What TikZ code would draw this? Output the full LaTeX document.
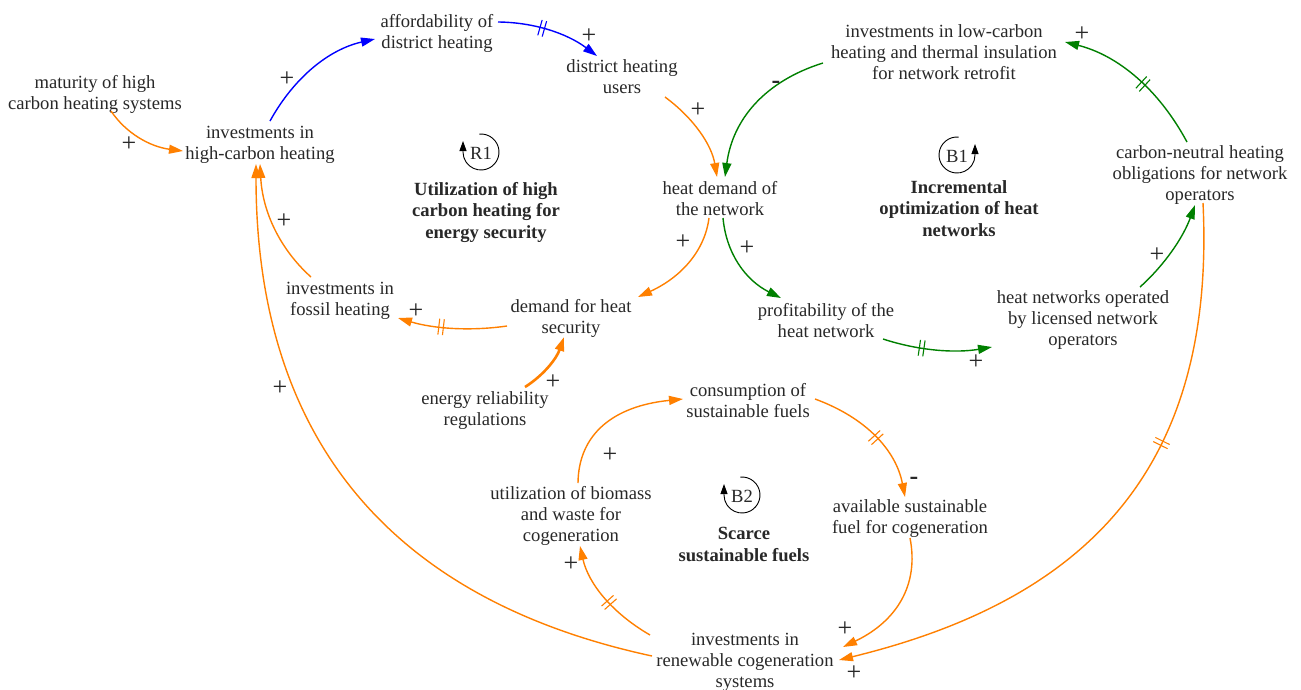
\documentclass[tikz,border=0pt]{standalone}
\usepackage{fontspec}
\setmainfont{Liberation Serif}
\usetikzlibrary{arrows.meta,decorations.markings}
\definecolor{orC}{RGB}{255,128,0}
\definecolor{grC}{RGB}{0,128,0}
\definecolor{blC}{RGB}{0,0,255}
\definecolor{txtC}{RGB}{40,40,40}
\newcommand{\tstrut}{\rule[-3.3pt]{0pt}{21pt}}
\begin{document}
\begin{tikzpicture}[x=1pt,y=-1pt,
  lbl/.style={align=center,inner sep=0pt,text=txtC,font=\fontsize{18.6}{21}\selectfont,execute at begin node=\tstrut,execute at end node=\tstrut},
  bld/.style={lbl,font=\fontsize{18.6}{21.5}\selectfont\bfseries},
  sgn/.style={inner sep=0pt,text=txtC,font=\fontsize{26}{26}\selectfont},
  lk/.style={line width=1.4pt,-{Triangle[length=14pt,width=9pt]}},
  cor/.style={color=orC},
  cgr/.style={color=grC},
  cbl/.style={color=blC},
  delaymk/.style={postaction={decorate,decoration={markings,mark=at position #1 with {\draw[line width=1.1pt,-] (-2.3pt,-8pt) -- (-2.3pt,8pt) (2.3pt,-8pt) -- (2.3pt,8pt);}}}},
  loopar/.style={line width=0.9pt,black,-{Triangle[length=10pt,width=7pt]}}
]
\useasboundingbox[fill=white] (0,0) rectangle (1301,689);

% variables
\node[lbl] (mat) at (95,94) {maturity of high\\carbon heating systems};
\node[lbl] (ihc) at (260,145) {investments in\\high-carbon heating};
\node[lbl] (aff) at (437,33.5) {affordability of\\district heating};
\node[lbl] (dhu) at (622,78.5) {district heating\\users};
\node[lbl] (hdn) at (720,200) {heat demand of\\the network};
\node[lbl] (ilc) at (944,54) {investments in low-carbon\\heating and thermal insulation\\for network retrofit};
\node[lbl] (cnh) at (1200,175) {carbon-neutral heating\\obligations for network\\operators};
\node[lbl] (hno) at (1083,320) {heat networks operated\\by licensed network\\operators};
\node[lbl] (prof) at (826,322) {profitability of the\\heat network};
\node[lbl] (dhs) at (571,318) {demand for heat\\security};
\node[lbl] (ifh) at (340,301) {investments in\\fossil heating};
\node[lbl] (erg) at (485,410.5) {energy reliability\\regulations};
\node[lbl] (csf) at (748,402.5) {consumption of\\sustainable fuels};
\node[lbl] (asf) at (910,519) {available sustainable\\fuel for cogeneration};
\node[lbl] (ubw) at (571,516) {utilization of biomass\\and waste for\\cogeneration};
\node[lbl] (irc) at (745,662) {investments in\\renewable cogeneration\\systems};

% loop markers
\node[lbl] (R1) at (481,152) {R1};
\node[lbl] (B1) at (957,155) {B1};
\node[lbl] (B2) at (742,495) {B2};
\draw[loopar] ([shift={(-95:18)}]R1.center) arc[start angle=-95,end angle=180,radius=18] -- ++(0,-11);
\draw[loopar] ([shift={(-85:18)}]B1.center) arc[start angle=-85,end angle=-360,radius=18] -- ++(0,-11);
\draw[loopar] ([shift={(-95:18)}]B2.center) arc[start angle=-95,end angle=180,radius=18] -- ++(0,-11);
\node[bld] (L1) at (486,212) {Utilization of high\\carbon heating for\\energy security};
\node[bld] (L2) at (959,210) {Incremental\\optimization of heat\\networks};
\node[bld] (L3) at (744,546) {Scarce\\sustainable fuels};

% links
\draw[cbl,lk] ([shift={(10,-24)}]ihc.center) .. controls (294.5,76.7) and (329.5,49.3) .. ([shift={(-62,5.5)}]aff.center);
\draw[cbl,lk,delaymk=0.42] ([shift={(61,-11.5)}]aff.center) .. controls (534.5,22.3) and (567.5,33.7) .. ([shift={(-25,-22.5)}]dhu.center);
\draw[cor,lk] ([shift={(16,17)}]mat.center) .. controls (126,133.3) and (150,146.7) .. ([shift={(-77,6)}]ihc.center);
\draw[cor,lk] ([shift={(43,18.5)}]dhu.center) .. controls (694.3,118.7) and (711.7,145.3) .. ([shift={(-3,-23)}]hdn.center);
\draw[cgr,lk] ([shift={(-121,9)}]ilc.center) .. controls (765.3,81) and (732.7,119) .. ([shift={(5,-23)}]hdn.center);
\draw[cgr,lk,delaymk=0.45] ([shift={(-13,-33)}]cnh.center) .. controls (1158.3,88.7) and (1117.7,55.3) .. ([shift={(121,-12)}]ilc.center);
\draw[cor,lk] ([shift={(-11,18)}]hdn.center) .. controls (704.8,250.8) and (681.2,277.2) .. ([shift={(67,-21)}]dhs.center);
\draw[cgr,lk] ([shift={(3,18)}]hdn.center) .. controls (726.3,253.7) and (745.7,280.3) .. ([shift={(-45,-24)}]prof.center);
\draw[cgr,lk,delaymk=0.36] ([shift={(57,17)}]prof.center) .. controls (918.8,350.7) and (955.2,353.3) .. ([shift={(-91,27)}]hno.center);
\draw[cgr,lk] ([shift={(57,-33)}]hno.center) .. controls (1164.8,264.7) and (1183.2,237.3) .. ([shift={(-5,30)}]cnh.center);
\draw[cor,lk,delaymk=0.6] ([shift={(-64,8)}]dhs.center) .. controls (470.2,331.3) and (433.8,328.7) .. ([shift={(58,17)}]ifh.center);
\draw[cor,lk] ([shift={(-29,-24)}]ifh.center) .. controls (279.5,248.8) and (262.5,211.2) .. ([shift={(0,19)}]ihc.center);
\draw[cor,lk,line width=2.6pt] ([shift={(40,-23.5)}]erg.center) .. controls (543.5,375.3) and (556.5,358.7) .. ([shift={(-7,19)}]dhs.center);
\draw[cor,lk] ([shift={(-93,-6)}]irc.center) .. controls (392,600) and (256,440) .. ([shift={(-4,19)}]ihc.center);
\draw[cor,lk,delaymk=0.38] ([shift={(3,28)}]cnh.center) .. controls (1216,470) and (1085,600) .. ([shift={(94,-2)}]irc.center);
\draw[cor,lk,delaymk=0.52] ([shift={(67,-3.5)}]csf.center) .. controls (866,417.7) and (896,450.3) .. ([shift={(-5,-22)}]asf.center);
\draw[cor,lk] ([shift={(0,19)}]asf.center) .. controls (919.2,584.8) and (896.8,621.2) .. ([shift={(98,-15)}]irc.center);
\draw[cor,lk,delaymk=0.45] ([shift={(-95,-27)}]irc.center) .. controls (611.7,612.8) and (588.3,583.2) .. ([shift={(9,30)}]ubw.center);
\draw[cor,lk] ([shift={(7,-33)}]ubw.center) .. controls (578.5,434) and (613.5,406) .. ([shift={(-65,-3.5)}]csf.center);

% polarity signs
\node[sgn] (s1) at (287,79) {+};
\node[sgn] (s2) at (589,36) {+};
\node[sgn] (s3) at (129,144) {+};
\node[sgn] (s4) at (698,110) {+};
\node[sgn] (s5) at (776,85) {\textbf{-}};
\node[sgn] (s6) at (1082,34) {+};
\node[sgn] (s7) at (683,242) {+};
\node[sgn] (s8) at (747,248) {+};
\node[sgn] (s9) at (976,362) {+};
\node[sgn] (s10) at (1157,255) {+};
\node[sgn] (s11) at (416,311) {+};
\node[sgn] (s12) at (284,221) {+};
\node[sgn] (s13) at (553,382) {+};
\node[sgn] (s14) at (280,388) {+};
\node[sgn] (s15) at (854,673) {+};
\node[sgn] (s16) at (914,481) {\textbf{-}};
\node[sgn] (s17) at (845,629) {+};
\node[sgn] (s18) at (571,564) {+};
\node[sgn] (s19) at (610,455) {+};
\end{tikzpicture}
\end{document}
